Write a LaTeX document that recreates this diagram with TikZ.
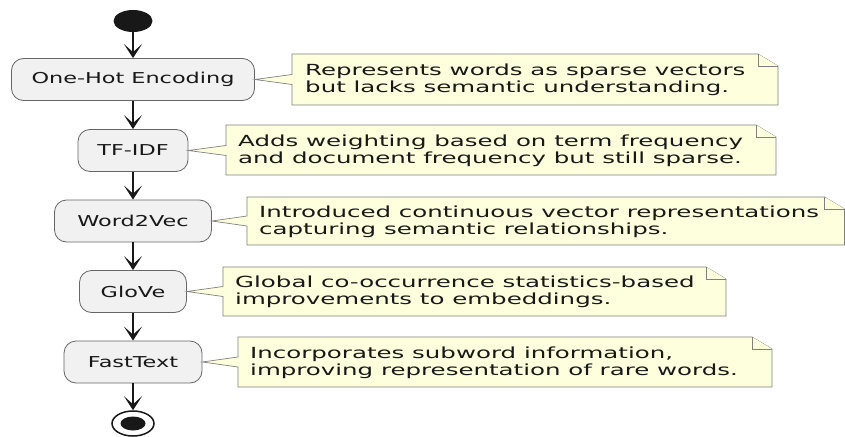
\documentclass[tikz,border=0pt]{standalone}
\usepackage{fontspec}
\usetikzlibrary{shapes.geometric,arrows.meta}
\newfontfamily\boxfont[FakeStretch=1.49]{DejaVu Sans}
\newfontfamily\notefont[FakeStretch=1.6]{DejaVu Sans}
\definecolor{ink}{HTML}{181818}
\definecolor{boxfill}{HTML}{F1F1F1}
\definecolor{notefill}{HTML}{FEFFDD}
% #1 left, #2 top, #3 right, #4 bottom, #5 pointer y, #6 box node
\newcommand{\drawnote}[6]{%
  \draw[notebody] (#1,#2) -- (#3-20,#2) -- (#3,#2+12) -- (#3,#4) -- (#1,#4)
    -- (#1,#5+5) -- (#6.east) -- (#1,#5-5) -- cycle;
  \draw[notebody] (#3-20,#2) -- (#3-20,#2+12) -- (#3,#2+12);
}
\begin{document}
\begin{tikzpicture}[x=1pt,y=-1pt,
  activity/.style={draw=black!60, line width=0.8pt, fill=boxfill, rounded corners=12pt,
    minimum height=42pt, inner sep=0pt, font=\boxfont\fontsize{15}{17}\selectfont, text=ink},
  notebody/.style={draw=black!50, line width=0.7pt, fill=notefill, line join=miter},
  notetext/.style={inner sep=0pt, align=left, anchor=west, text=ink,
    font=\notefont\fontsize{15.3}{17}\selectfont},
  flow/.style={draw=ink, line width=1.5pt, -{Stealth[length=14pt,width=18pt,inset=8pt]}},
]
\useasboundingbox (0,0) rectangle (845,436);

\node[ellipse, fill=ink, minimum width=39pt, minimum height=22pt, inner sep=0pt] (start) at (133,21) {};

\node[activity, minimum width=243pt] (b1) at (133,79.5) {One-Hot Encoding};
\node[activity, minimum width=110pt] (b2) at (133,150.5) {TF-IDF};
\node[activity, minimum width=157pt] (b3) at (133,221) {Word2Vec};
\node[activity, minimum width=107pt] (b4) at (133,291.5) {GloVe};
\node[activity, minimum width=138pt] (b5) at (133,362) {FastText};

\node[ellipse, draw=ink, line width=1.5pt, fill=white, minimum width=42pt, minimum height=25pt, inner sep=0pt] (stop) at (133,423.5) {};
\node[ellipse, fill=ink, minimum width=25pt, minimum height=14pt, inner sep=0pt] (stopin) at (stop.center) {};

\draw[flow] (start) -- (b1);
\draw[flow] (b1) -- (b2);
\draw[flow] (b2) -- (b3);
\draw[flow] (b3) -- (b4);
\draw[flow] (b4) -- (b5);
\draw[flow] (b5) -- (stop);

\drawnote{292}{54}{778}{105}{79.5}{b1}
\drawnote{226}{125}{776}{175}{150.5}{b2}
\drawnote{247}{197}{844.5}{245}{221}{b3}
\drawnote{223}{267}{726}{316}{291.5}{b4}
\drawnote{238}{337}{772}{387}{362}{b5}

\node[notetext] (n1) at (305,80) {Represents words as sparse vectors\\but lacks semantic understanding.};
\node[notetext] (n2) at (238,150.5) {Adds weighting based on term frequency\\and document frequency but still sparse.};
\node[notetext] (n3) at (259,221.5) {Introduced continuous vector representations\\capturing semantic relationships.};
\node[notetext] (n4) at (235,292) {Global co-occurrence statistics-based\\improvements to embeddings.};
\node[notetext] (n5) at (250,362.5) {Incorporates subword information,\\improving representation of rare words.};
\end{tikzpicture}
\end{document}
